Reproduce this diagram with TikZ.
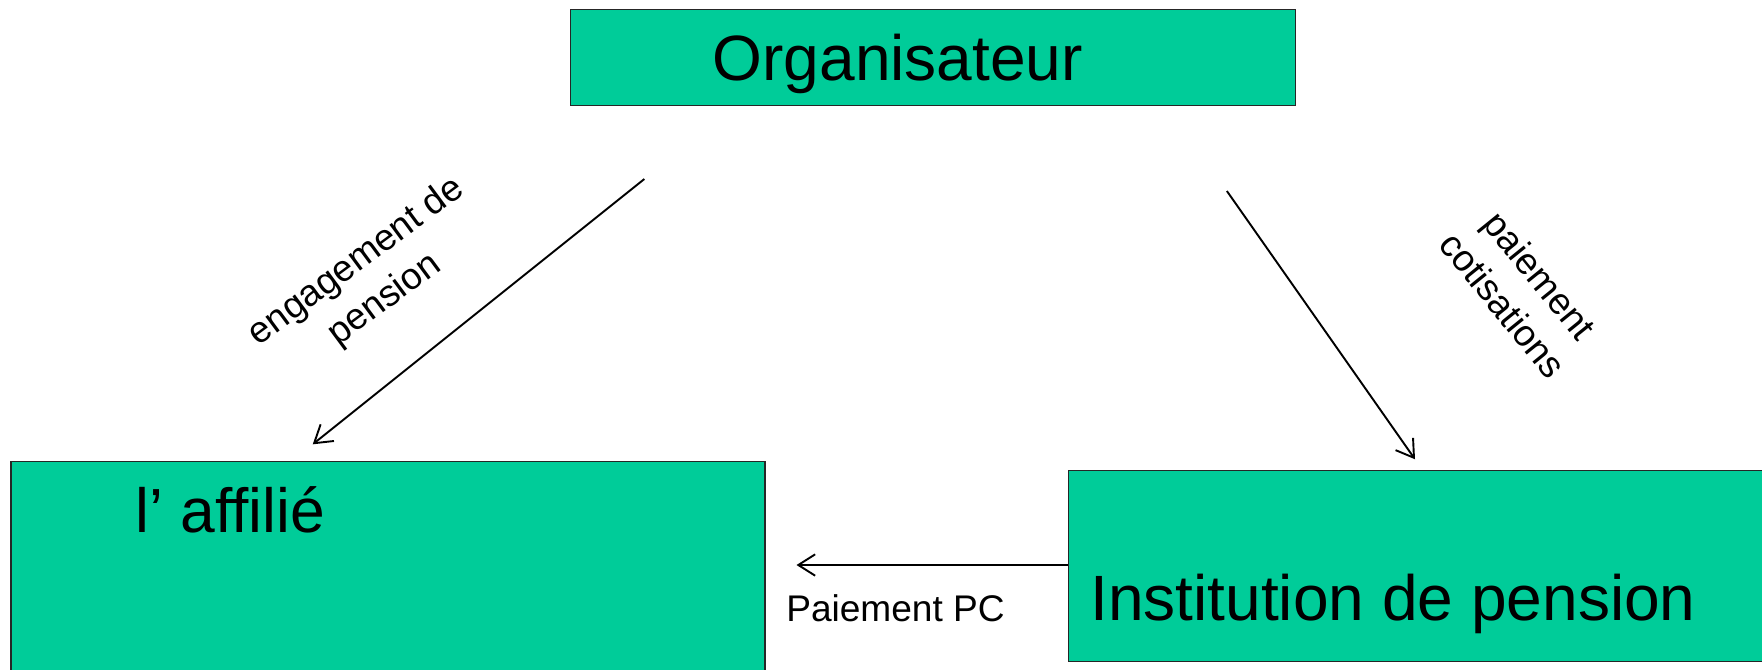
\documentclass[tikz,border=0pt]{standalone}
\usepackage{fontspec}
\setmainfont{Liberation Sans}
\usetikzlibrary{arrows.meta}
\definecolor{boxgreen}{RGB}{0,204,153}
\tikzset{
  box/.style={draw=black!85, line width=1.3pt, fill=boxgreen, rectangle, anchor=north west, inner sep=0pt},
  bigtext/.style={anchor=base west, inner sep=0pt, font=\fontsize{57}{68}\selectfont},
  midtext/.style={anchor=base west, inner sep=0pt, font=\fontsize{55.5}{66}\selectfont},
  smalltext/.style={inner sep=0pt, align=center, font=\fontsize{33}{42}\selectfont},
  arr/.style={line width=1.7pt, -{Straight Barb[length=15pt,width=19pt,line width=1.7pt]}}
}
\begin{document}
\begin{tikzpicture}[x=1pt,y=-1pt]
\useasboundingbox (0,0) rectangle (1568,596.2);
\clip (0,0) rectangle (1568,596.2);
% boxes
\node[box, minimum width=645pt, minimum height=85pt] (org) at (507,8) {};
\node[box, minimum width=671pt, minimum height=220pt] (aff) at (9,410) {};
\node[box, minimum width=660pt, minimum height=170pt] (inst) at (950,418) {};
% box texts
\node[bigtext] (orgtext) at (634,72) {Organisateur};
\node[midtext] (afftext) at (120.5,474) {l’ affilié};
\node[bigtext] (insttext) at (970,552) {Institution de pension};
% connector end points
\coordinate (a1s) at (573.4,159.3);
\coordinate (a1e) at (278.3,395.4);
\coordinate (a2s) at (1091.8,170);
\coordinate (a2e) at (1259.2,408.7);
\coordinate (a3s) at (950,502.8);
\coordinate (a3e) at (708.8,502.8);
\draw[arr] (a1s) -- (a1e);
\draw[arr] (a2s) -- (a2e);
\draw[arr] (a3s) -- (a3e);
% labels
\node[smalltext, rotate=36.5] (lab1) at (330,250) {engagement de\\pension};
\node[smalltext, rotate=-51] (lab2) at (1354,258) {paiement\\cotisations};
\node[smalltext, anchor=base west] (lab3) at (699.5,553) {Paiement PC};
\end{tikzpicture}
\end{document}
